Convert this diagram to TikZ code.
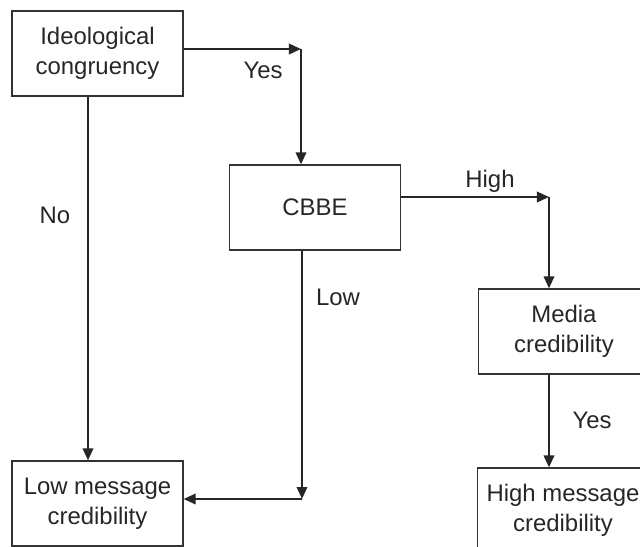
\documentclass[tikz,border=0pt]{standalone}
\usepackage{fontspec}
\setmainfont{Liberation Sans}
\usetikzlibrary{arrows.meta}

\begin{document}
\begin{tikzpicture}[x=0.025cm, y=-0.025cm,
    box/.style={draw=black!80, line width=1pt, rectangle, inner sep=0pt,
        minimum width=4.27cm, minimum height=2.12cm, align=center,
        font=\fontsize{17}{21.5}\selectfont, text=black!85},
    lbl/.style={font=\fontsize{17}{21.5}\selectfont, text=black!85},
    arr/.style={line width=1.6pt, draw=black!85,
        -{Triangle[length=3mm, width=2.6mm]}}]
    \clip (0,0) rectangle (640,547);  % the reference is cut at the right and bottom
    % boxes
    \node[box] (ideo)    at (97.5,53.5)  {Ideological\\congruency};
    \node[box] (cbbe)    at (315,207.5)  {CBBE};
    \node[box] (media)   at (564,331.5)  {Media\\credibility};
    \node[box] (lowmsg)  at (97.5,503.5) {Low message\\credibility};
    \node[box] (highmsg) at (563,510.5)  {High message\\credibility};
    % corners of the elbow connectors
    \coordinate (yescorner)  at (301,49);
    \coordinate (highcorner) at (549,197);
    \coordinate (lowcorner)  at (302,499);
    % connectors
    \draw[arr] (ideo.east |- yescorner) -- (yescorner);
    \draw[arr] (yescorner) -- (cbbe.north -| yescorner);
    \draw[arr] (cbbe.east |- highcorner) -- (highcorner);
    \draw[arr] (highcorner) -- (media.north -| highcorner);
    \draw[arr] (cbbe.south -| lowcorner) -- (lowcorner);
    \draw[arr] (lowcorner) -- (lowmsg.east |- lowcorner);
    \draw[arr] (ideo.south -| 88,0) -- (lowmsg.north -| 88,0);
    \draw[arr] (media.south -| highcorner) -- (highmsg.north -| highcorner);
    % labels
    \node[lbl] (yeslbl)  at (263,70)  {Yes};
    \node[lbl] (nolbl)   at (55,215)  {No};
    \node[lbl] (highlbl) at (490,181) {High};
    \node[lbl] (lowlbl)  at (338,297) {Low};
    \node[lbl] (yes2lbl) at (592,420) {Yes};
\end{tikzpicture}
\end{document}
